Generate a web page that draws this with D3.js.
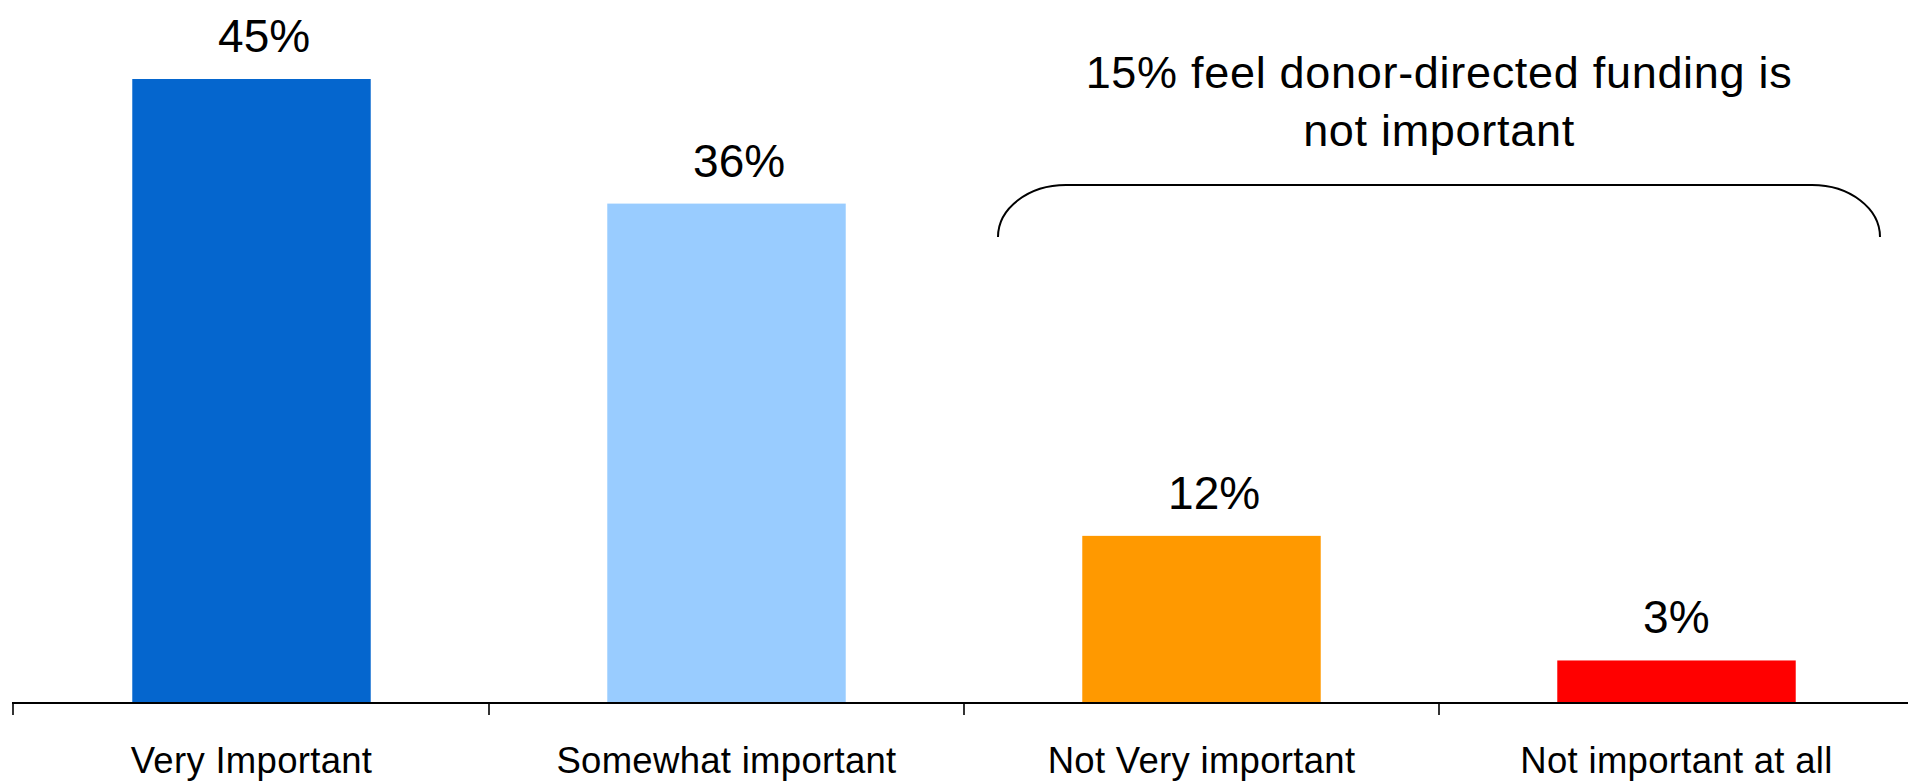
<!DOCTYPE html>
<html>
<head>
<meta charset="utf-8">
<script src="https://cdn.jsdelivr.net/npm/d3@7"></script>
<style>
  html, body { margin: 0; padding: 0; background: #fff; }
  svg { display: block; font-family: "Liberation Sans", Arial, Helvetica, sans-serif; }
</style>
</head>
<body>
<svg id="chart" width="1908" height="781"></svg>
<script>
// Survey responses: importance of donor-directed funding
const categories = ["Very Important", "Somewhat important", "Not Very important", "Not important at all"];
const values = [45, 36, 12, 3];
const barColors = ["#0566CE", "#99CCFF", "#FF9900", "#FF0000"];
const noteLines = ["15% feel donor-directed funding is", "not important"];
const notGroup = ["Not Very important", "Not important at all"];

const svg = d3.select("#chart");
const baseY = 702;

const x = d3.scaleBand()
  .domain(categories)
  .range([14, 1914])
  .paddingInner(0)
  .paddingOuter(0);

const y = d3.scaleLinear()
  .domain([0, 45])
  .range([baseY, 79]);

const barW = x.bandwidth() * 0.502;
const barX = c => x(c) + (x.bandwidth() - barW) / 2;

// Bars
svg.append("g")
  .selectAll("rect")
  .data(categories)
  .join("rect")
  .attr("x", c => barX(c))
  .attr("y", (c, i) => y(values[i]))
  .attr("width", barW)
  .attr("height", (c, i) => y(0) - y(values[i]))
  .attr("fill", (c, i) => barColors[i]);

// Value labels
svg.append("g")
  .selectAll("text")
  .data(categories)
  .join("text")
  .attr("x", c => barX(c) + barW * 0.36)
  .attr("y", (c, i) => y(values[i]) - 27)
  .attr("font-size", 46)
  .attr("fill", "#000")
  .text((c, i) => values[i] + "%");

// Category axis: baseline with ticks at band boundaries
const axis = svg.append("g");
const [r0, r1] = x.range();
axis.append("line")
  .attr("x1", r0 - 2).attr("x2", r1)
  .attr("y1", baseY + 1).attr("y2", baseY + 1)
  .attr("stroke", "#000").attr("stroke-width", 2);
axis.selectAll("line.tick")
  .data(categories)
  .join("line")
  .attr("class", "tick")
  .attr("x1", (c, i) => i === 0 ? r0 - 1 : x(c))
  .attr("x2", (c, i) => i === 0 ? r0 - 1 : x(c))
  .attr("y1", baseY + 1).attr("y2", baseY + 13)
  .attr("stroke", "#000").attr("stroke-width", 1.6);
axis.selectAll("text")
  .data(categories)
  .join("text")
  .attr("x", c => x(c) + x.bandwidth() / 2)
  .attr("y", 773)
  .attr("text-anchor", "middle")
  .attr("font-size", 36.5)
  .attr("letter-spacing", 0.3)
  .attr("fill", "#000")
  .text(c => c);

// Bracket over the "not important" group
const bL = x(notGroup[0]) + 34;
const bR = x(notGroup[1]) + x.bandwidth() - 34;
const bTop = 185, bBot = 237, rx = 68, ry = bBot - bTop;
svg.append("path")
  .attr("d", `M${bL},${bBot} A${rx},${ry} 0 0 1 ${bL + rx},${bTop} L${bR - rx},${bTop} A${rx},${ry} 0 0 1 ${bR},${bBot}`)
  .attr("fill", "none")
  .attr("stroke", "#000")
  .attr("stroke-width", 2);

// Annotation text
const cx = (bL + bR) / 2;
svg.append("g")
  .selectAll("text")
  .data(noteLines)
  .join("text")
  .attr("x", cx)
  .attr("y", (d, i) => 88 + i * 58)
  .attr("text-anchor", "middle")
  .attr("font-size", 45)
  .attr("letter-spacing", 0.7)
  .attr("fill", "#000")
  .text(d => d);
</script>
</body>
</html>
